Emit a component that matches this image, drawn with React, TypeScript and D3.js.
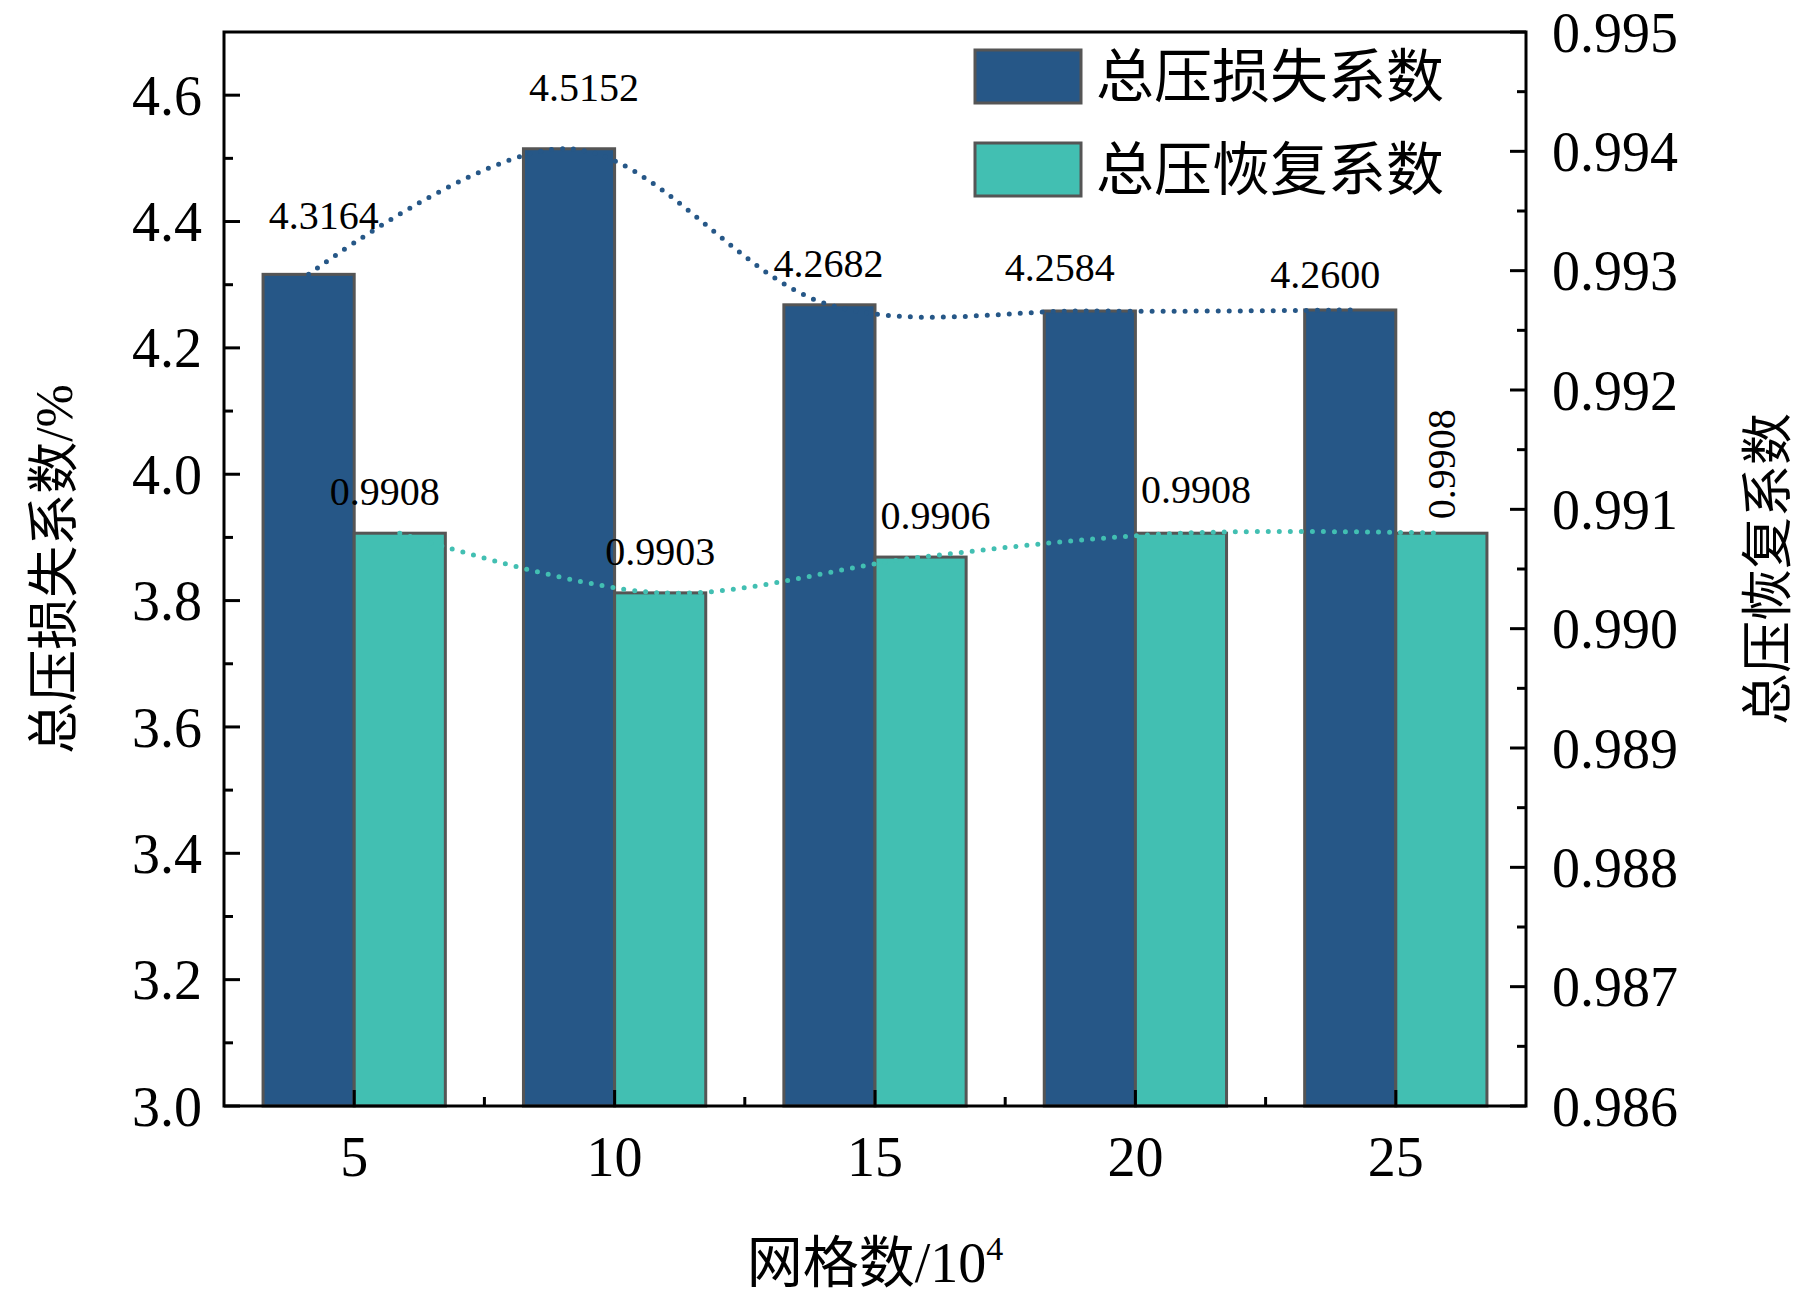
import * as d3 from "d3";
import { useEffect, useRef } from "react";

const grids = ["5", "10", "15", "20", "25"];
const lossValues = [4.3164, 4.5152, 4.2682, 4.2584, 4.26];
const recoveryValues = [0.9908, 0.9903, 0.9906, 0.9908, 0.9908];
const lossLabels = ["4.3164", "4.5152", "4.2682", "4.2584", "4.2600"];
const recoveryLabels = ["0.9908", "0.9903", "0.9906", "0.9908", "0.9908"];
const leftTicks = [3.0, 3.2, 3.4, 3.6, 3.8, 4.0, 4.2, 4.4, 4.6];
const rightTicks = [0.986, 0.987, 0.988, 0.989, 0.99, 0.991, 0.992, 0.993, 0.994, 0.995];

const DARK = "#265787";
const TEAL = "#42bfb2";
const SERIF = "'Liberation Serif', 'Times New Roman', serif";
const CJK = "'Liberation Serif', 'Noto Sans CJK SC', serif";

const App = () => {
  const ref = useRef<SVGSVGElement>(null);

  useEffect(() => {
    document.body.style.margin = "0";
    const width = 1819, height = 1299;
    const margin = { top: 32, right: 293, bottom: 193, left: 224 };
    const svg = d3.select(ref.current);
    svg.selectAll("*").remove();

    const x = d3.scalePoint().domain(grids).range([margin.left, width - margin.right]).padding(0.5);
    const step = x.step();
    const yL = d3.scaleLinear().domain([3.0, 4.7]).range([height - margin.bottom, margin.top]);
    const yR = d3.scaleLinear().domain([0.986, 0.995]).range([height - margin.bottom, margin.top]);
    const barW = step * 0.35;

    const g = svg.append("g");

    // bars
    g.selectAll("rect.loss").data(lossValues).join("rect")
      .attr("x", (_, i) => x(grids[i])! - barW)
      .attr("y", (d) => yL(d))
      .attr("width", barW)
      .attr("height", (d) => yL(3.0) - yL(d))
      .attr("fill", DARK).attr("stroke", "#555").attr("stroke-width", 3);
    g.selectAll("rect.rec").data(recoveryValues).join("rect")
      .attr("x", (_, i) => x(grids[i])!)
      .attr("y", (d) => yR(d))
      .attr("width", barW)
      .attr("height", (d) => yR(0.986) - yR(d))
      .attr("fill", TEAL).attr("stroke", "#555").attr("stroke-width", 3);

    // dotted lines
    const lossLine = d3.line<number>()
      .x((_, i) => x(grids[i])! - barW / 2).y((d) => yL(d)).curve(d3.curveCatmullRom);
    const recLine = d3.line<number>()
      .x((_, i) => x(grids[i])! + barW / 2).y((d) => yR(d)).curve(d3.curveCatmullRom);
    g.append("path").attr("d", lossLine(lossValues)).attr("fill", "none")
      .attr("stroke", DARK).attr("stroke-width", 5).attr("stroke-linecap", "round").attr("stroke-dasharray", "0 11");
    g.append("path").attr("d", recLine(recoveryValues)).attr("fill", "none")
      .attr("stroke", TEAL).attr("stroke-width", 5).attr("stroke-linecap", "round").attr("stroke-dasharray", "0 11");

    // value labels
    const lossDx = [0, 0, -16, -45, -40];
    const lossDy = [-45, -48, -28, -30, -22];
    g.selectAll("text.loss").data(lossLabels).join("text")
      .attr("x", (_, i) => x(grids[i])! - barW / 2 + 15 + lossDx[i])
      .attr("y", (_, i) => yL(lossValues[i]) + lossDy[i])
      .attr("text-anchor", "middle").attr("font-family", SERIF).attr("font-size", 40).text((d) => d);
    const recDx = [-15, 0, 15, 15];
    const recDy = [-28, -28, -28, -30];
    g.selectAll("text.rec").data(recoveryLabels.slice(0, 4)).join("text")
      .attr("x", (_, i) => x(grids[i])! + barW / 2 + recDx[i])
      .attr("y", (_, i) => yR(recoveryValues[i]) + recDy[i])
      .attr("text-anchor", "middle").attr("font-family", SERIF).attr("font-size", 40).text((d) => d);
    const lx = x(grids[4])! + barW / 2 + 14, ly = yR(recoveryValues[4]) - 14;
    g.append("text").attr("transform", `translate(${lx},${ly}) rotate(-90)`)
      .attr("font-family", SERIF).attr("font-size", 40).text(recoveryLabels[4]);

    // frame
    const L = margin.left, R = width - margin.right, T = margin.top, B = height - margin.bottom;
    g.append("rect").attr("x", L).attr("y", T).attr("width", R - L).attr("height", B - T)
      .attr("fill", "none").attr("stroke", "#000").attr("stroke-width", 3);

    // left axis
    const yLminor = d3.range(3.1, 4.7, 0.2);
    g.selectAll("line.lt").data(leftTicks).join("line")
      .attr("x1", L).attr("x2", L + 16).attr("y1", (d) => yL(d)).attr("y2", (d) => yL(d)).attr("stroke", "#000").attr("stroke-width", 3);
    g.selectAll("line.lm").data(yLminor).join("line")
      .attr("x1", L).attr("x2", L + 9).attr("y1", (d) => yL(d)).attr("y2", (d) => yL(d)).attr("stroke", "#000").attr("stroke-width", 3);
    g.selectAll("text.lt").data(leftTicks).join("text")
      .attr("x", L - 22).attr("y", (d) => yL(d)).attr("dy", "0.35em").attr("text-anchor", "end")
      .attr("font-family", SERIF).attr("font-size", 56).text((d) => d.toFixed(1));

    // right axis
    const yRminor = d3.range(0.9865, 0.995, 0.001);
    g.selectAll("line.rt").data(rightTicks).join("line")
      .attr("x1", R).attr("x2", R - 16).attr("y1", (d) => yR(d)).attr("y2", (d) => yR(d)).attr("stroke", "#000").attr("stroke-width", 3);
    g.selectAll("line.rm").data(yRminor).join("line")
      .attr("x1", R).attr("x2", R - 9).attr("y1", (d) => yR(d)).attr("y2", (d) => yR(d)).attr("stroke", "#000").attr("stroke-width", 3);
    g.selectAll("text.rt").data(rightTicks).join("text")
      .attr("x", R + 26).attr("y", (d) => yR(d)).attr("dy", "0.35em")
      .attr("font-family", SERIF).attr("font-size", 56).text((d) => d.toFixed(3));

    // bottom axis
    g.selectAll("line.bt").data(grids).join("line")
      .attr("x1", (d) => x(d)!).attr("x2", (d) => x(d)!).attr("y1", B).attr("y2", B - 16).attr("stroke", "#000").attr("stroke-width", 3);
    g.selectAll("line.bm").data(grids.slice(1)).join("line")
      .attr("x1", (d) => x(d)! - step / 2).attr("x2", (d) => x(d)! - step / 2).attr("y1", B).attr("y2", B - 9).attr("stroke", "#000").attr("stroke-width", 3);
    g.selectAll("text.bt").data(grids).join("text")
      .attr("x", (d) => x(d)!).attr("y", B + 70).attr("text-anchor", "middle")
      .attr("font-family", SERIF).attr("font-size", 56).text((d) => d);

    // axis titles
    g.append("text").attr("transform", `translate(72,${(T + B) / 2}) rotate(-90)`)
      .attr("text-anchor", "middle").attr("font-family", CJK).attr("font-size", 52).text("总压损失系数/%");
    g.append("text").attr("transform", `translate(1786,${(T + B) / 2}) rotate(-90)`)
      .attr("text-anchor", "middle").attr("font-family", CJK).attr("font-size", 52).text("总压恢复系数");
    const xt = g.append("text").attr("x", (L + R) / 2).attr("y", 1282).attr("text-anchor", "middle")
      .attr("font-family", CJK).attr("font-size", 56);
    xt.append("tspan").text("网格数/10");
    xt.append("tspan").attr("dy", -22).attr("font-size", 34).text("4");

    // legend
    const legend = [{ c: DARK, t: "总压损失系数" }, { c: TEAL, t: "总压恢复系数" }];
    legend.forEach((l, i) => {
      const yy = 50 + i * 93;
      g.append("rect").attr("x", 975).attr("y", yy).attr("width", 106).attr("height", 53)
        .attr("fill", l.c).attr("stroke", "#555").attr("stroke-width", 3);
      g.append("text").attr("x", 1096).attr("y", yy + 27).attr("dy", "0.35em")
        .attr("font-family", CJK).attr("font-size", 58).text(l.t);
    });
  }, []);

  return <svg ref={ref} width={1819} height={1299} style={{ display: "block", background: "#fff" }} />;
};

export default App;
